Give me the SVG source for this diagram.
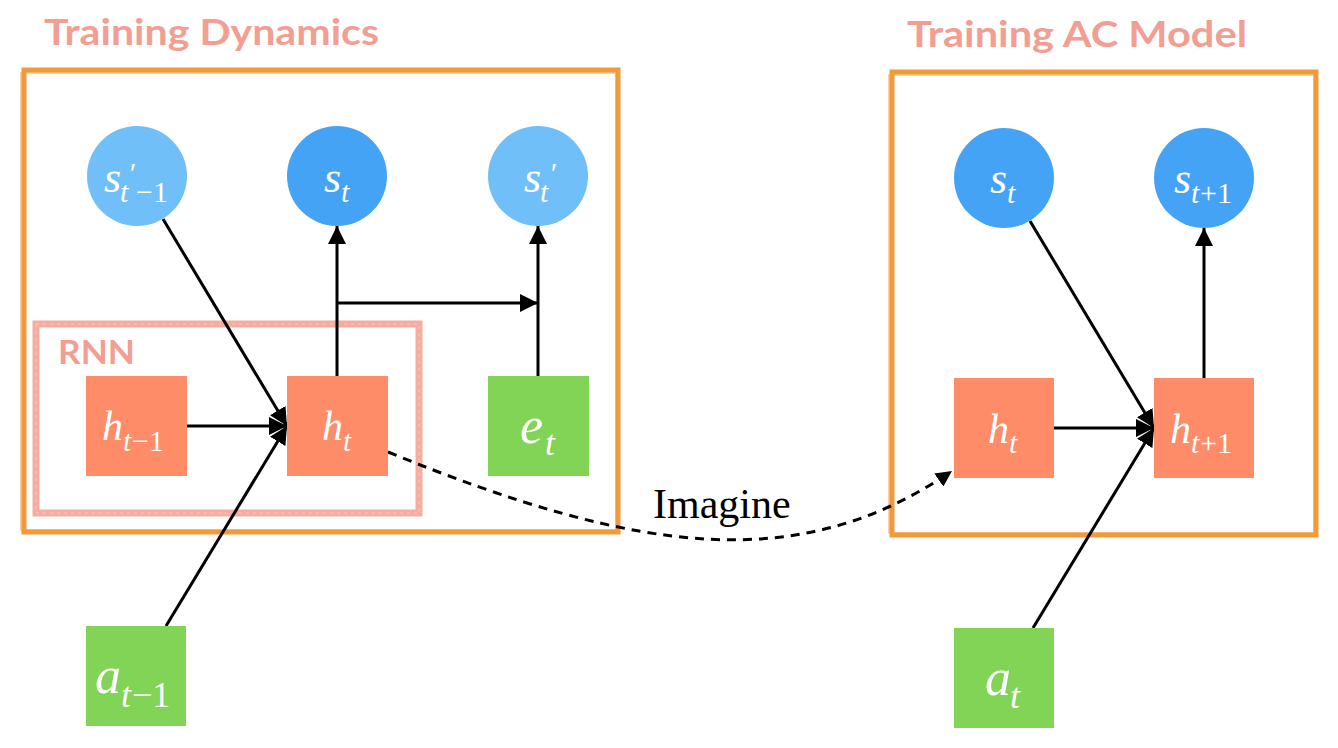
<svg xmlns="http://www.w3.org/2000/svg" width="1338" height="748" viewBox="0 0 1338 748">
<defs>
<style>
.title{font-family:"Lato","Open Sans","DejaVu Sans",sans-serif;font-weight:bold;fill:#F29E92;}
.frame{fill:none;stroke:#F29A3A;stroke-width:5;}
.frame2{fill:none;stroke:#F29A3A;stroke-width:1.5;opacity:0.6;}
.rnn{fill:none;stroke:#F4A397;stroke-width:7;opacity:0.9;}
.rnn2{fill:none;stroke:#FFFFFF;stroke-width:1;stroke-dasharray:3 4;opacity:0.35;}
.lb{fill:#70BFF8;}
.db{fill:#45A3F5;}
.hr{fill:#FF8C69;}
.gr{fill:#81D455;}
.edge{stroke:#000;stroke-width:3;fill:none;}
.dash{stroke:#000;stroke-width:3;fill:none;stroke-dasharray:9 7;}
</style>
<marker id="arr" markerUnits="userSpaceOnUse" markerWidth="19" markerHeight="18" refX="18" refY="9" orient="auto">
<path d="M0,0 L18,9 L0,18 z" fill="#000"/>
</marker>
<marker id="arr2" markerUnits="userSpaceOnUse" markerWidth="17" markerHeight="16" refX="16" refY="8" orient="auto">
<path d="M0,0 L16,8 L0,16 z" fill="#000"/>
</marker>
</defs>
<rect width="1338" height="748" fill="#FFFFFF"/>

<g id="frame-dynamics">
<text class="title" x="44" y="45" font-size="36" textLength="335" lengthAdjust="spacingAndGlyphs">Training Dynamics</text>
<rect class="frame" x="24" y="70" width="594" height="462"/>
<rect class="frame2" x="21" y="73" width="595" height="457"/>
</g>
<g id="frame-ac">
<text class="title" x="907" y="47" font-size="36" textLength="340" lengthAdjust="spacingAndGlyphs">Training AC Model</text>
<rect class="frame" x="892" y="72" width="424" height="463"/>
<rect class="frame2" x="889" y="75" width="425" height="458"/>
</g>
<g id="rnn-box">
<rect class="rnn" x="36" y="324" width="383" height="189"/>
<rect class="rnn2" x="36" y="324" width="383" height="189"/>
<text class="title" x="58" y="364" font-size="32" textLength="77" lengthAdjust="spacingAndGlyphs">RNN</text>
</g>

<g id="connectors">
<line class="edge" x1="163" y1="219" x2="287" y2="426" marker-end="url(#arr)"/>
<line class="edge" x1="166" y1="626" x2="287" y2="426" marker-end="url(#arr)"/>
<line class="edge" x1="187" y1="426" x2="287" y2="426" marker-end="url(#arr)"/>
<line class="edge" x1="337" y1="376" x2="337" y2="226" marker-end="url(#arr)"/>
<line class="edge" x1="538" y1="376" x2="538" y2="226" marker-end="url(#arr)"/>
<line class="edge" x1="337" y1="303" x2="538" y2="303" marker-end="url(#arr)"/>
<line class="edge" x1="1030" y1="221" x2="1154" y2="428" marker-end="url(#arr)"/>
<line class="edge" x1="1033" y1="628" x2="1154" y2="428" marker-end="url(#arr)"/>
<line class="edge" x1="1054" y1="428" x2="1154" y2="428" marker-end="url(#arr)"/>
<line class="edge" x1="1204" y1="378" x2="1204" y2="228" marker-end="url(#arr)"/>
<path class="dash" d="M388,452 C640,555 800,575 952,471" marker-end="url(#arr2)"/>
<text x="653" y="518" font-family="Liberation Serif, DejaVu Serif, serif" font-size="42" fill="#000">Imagine</text>
</g>

<g id="node-s-prev-prime" font-family="Liberation Serif, DejaVu Serif, serif" fill="#FFFFFF" font-style="italic">
<circle class="lb" cx="137" cy="176" r="50"/>
<text x="104" y="192" font-size="44">s</text>
<text x="120" y="202" font-size="30">t</text>
<text x="128" y="183" font-size="30">′</text>
<text x="136" y="202" font-size="30" font-style="normal">−1</text>
</g>
<g id="node-s-t" font-family="Liberation Serif, DejaVu Serif, serif" fill="#FFFFFF" font-style="italic">
<circle class="db" cx="337" cy="176" r="50"/>
<text x="324" y="192" font-size="44">s</text>
<text x="341" y="202" font-size="30">t</text>
</g>
<g id="node-s-t-prime" font-family="Liberation Serif, DejaVu Serif, serif" fill="#FFFFFF" font-style="italic">
<circle class="lb" cx="538" cy="176" r="50"/>
<text x="524" y="192" font-size="44">s</text>
<text x="540" y="202" font-size="30">t</text>
<text x="549" y="183" font-size="30">′</text>
</g>
<g id="node-h-prev" font-family="Liberation Serif, DejaVu Serif, serif" fill="#FFFFFF" font-style="italic">
<rect class="hr" x="86" y="376" width="101" height="100"/>
<text x="102" y="440" font-size="42">h</text>
<text x="123" y="451" font-size="30">t</text>
<text x="132" y="451" font-size="30" font-style="normal">−1</text>
</g>
<g id="node-h-t" font-family="Liberation Serif, DejaVu Serif, serif" fill="#FFFFFF" font-style="italic">
<rect class="hr" x="287" y="376" width="101" height="100"/>
<text x="322" y="440" font-size="42">h</text>
<text x="343" y="451" font-size="30">t</text>
</g>
<g id="node-e-t" font-family="Liberation Serif, DejaVu Serif, serif" fill="#FFFFFF" font-style="italic">
<rect class="gr" x="488" y="376" width="101" height="100"/>
<text x="520" y="443" font-size="52">e</text>
<text x="545" y="455" font-size="36">t</text>
</g>
<g id="node-a-prev" font-family="Liberation Serif, DejaVu Serif, serif" fill="#FFFFFF" font-style="italic">
<rect class="gr" x="86" y="626" width="100" height="100"/>
<text x="95" y="693" font-size="52">a</text>
<text x="121" y="707" font-size="36">t</text>
<text x="132" y="707" font-size="36" font-style="normal">−1</text>
</g>
<g id="node-ac-s-t" font-family="Liberation Serif, DejaVu Serif, serif" fill="#FFFFFF" font-style="italic">
<circle class="db" cx="1004" cy="178" r="50"/>
<text x="990" y="193" font-size="44">s</text>
<text x="1007" y="203" font-size="30">t</text>
</g>
<g id="node-ac-s-next" font-family="Liberation Serif, DejaVu Serif, serif" fill="#FFFFFF" font-style="italic">
<circle class="db" cx="1204" cy="178" r="50"/>
<text x="1174" y="193" font-size="44">s</text>
<text x="1191" y="203" font-size="30">t</text>
<text x="1200" y="203" font-size="30" font-style="normal">+1</text>
</g>
<g id="node-ac-h-t" font-family="Liberation Serif, DejaVu Serif, serif" fill="#FFFFFF" font-style="italic">
<rect class="hr" x="954" y="378" width="100" height="100"/>
<text x="988" y="443" font-size="42">h</text>
<text x="1009" y="453" font-size="30">t</text>
</g>
<g id="node-ac-h-next" font-family="Liberation Serif, DejaVu Serif, serif" fill="#FFFFFF" font-style="italic">
<rect class="hr" x="1154" y="378" width="100" height="100"/>
<text x="1170" y="443" font-size="42">h</text>
<text x="1191" y="453" font-size="30">t</text>
<text x="1200" y="453" font-size="30" font-style="normal">+1</text>
</g>
<g id="node-ac-a-t" font-family="Liberation Serif, DejaVu Serif, serif" fill="#FFFFFF" font-style="italic">
<rect class="gr" x="954" y="628" width="100" height="100"/>
<text x="985" y="695" font-size="52">a</text>
<text x="1010" y="708" font-size="36">t</text>
</g>
</svg>
